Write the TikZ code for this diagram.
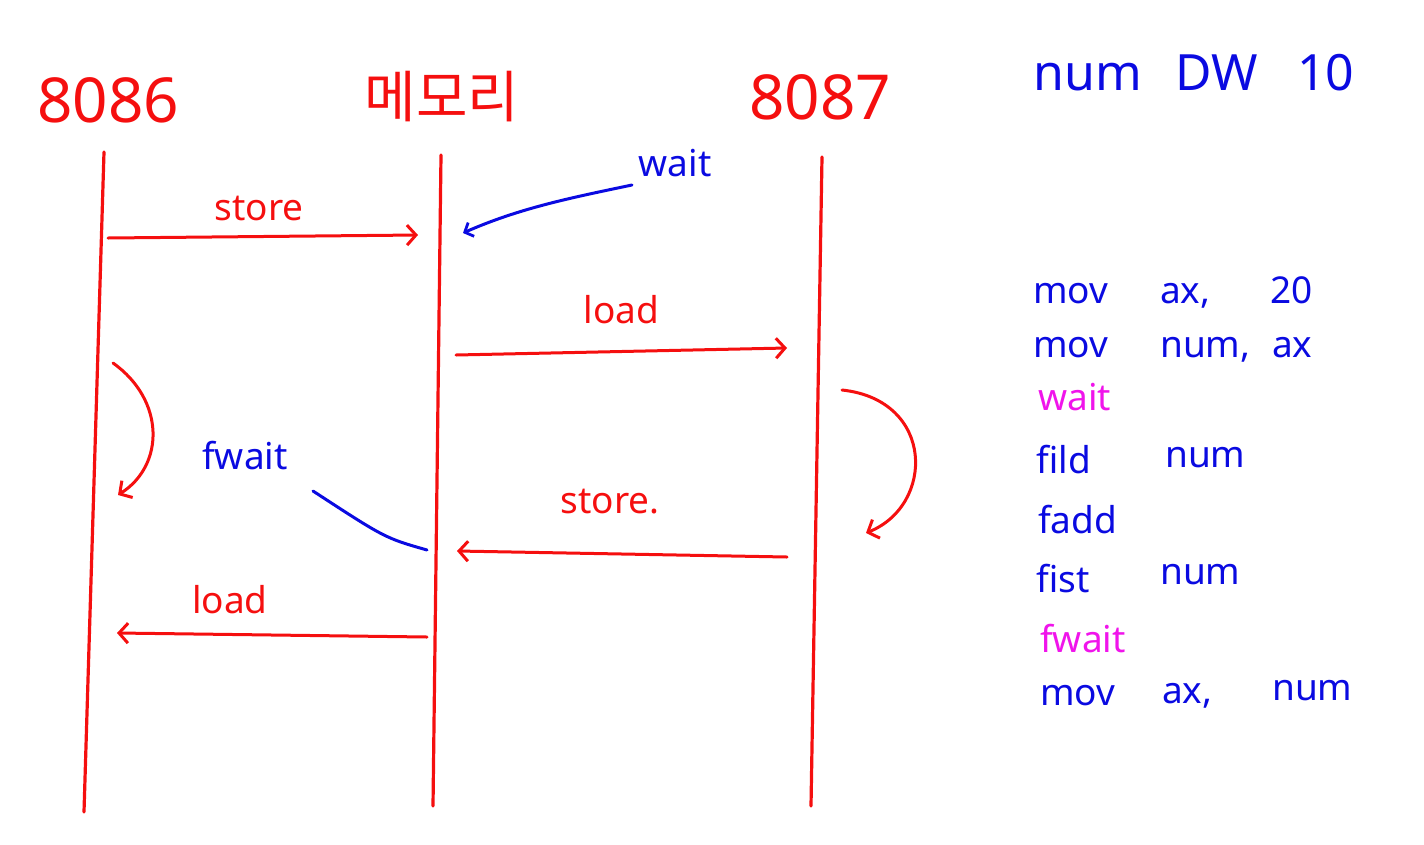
\documentclass[tikz,border=0pt]{standalone}
\usepackage{fontspec}
\setmainfont{Noto Sans}
\newfontfamily\kor{Noto Sans CJK KR}
\usetikzlibrary{arrows.meta,positioning}
\definecolor{pen}{RGB}{245,15,15}
\definecolor{ink}{RGB}{10,10,225}
\definecolor{pink}{RGB}{240,20,235}
\newcommand{\headsize}{\fontsize{62}{70}\selectfont}
\newcommand{\lblsize}{\fontsize{37}{44}\selectfont}
\newcommand{\codesize}{\fontsize{37}{44}\selectfont}

\begin{document}
\begin{tikzpicture}[x=1pt,y=-1pt,
	life/.style={pen, line width=3.2pt, line cap=round},
	msg/.style={pen, line width=3pt, line cap=round, -{Straight Barb[length=9pt,width=20pt,line width=3pt]}},
	note/.style={ink, line width=3pt, line cap=round},
	head/.style={pen, font=\headsize, inner sep=0pt},
	lbl/.style={pen, font=\lblsize, inner sep=2pt},
	tok/.style={ink, font=\codesize, anchor=base west, inner sep=0pt}]
	\useasboundingbox (0,0) rectangle (1424,844);

	% headers
	\node[head] (cpu) at (108,100) {8086};
	\node[head, font=\fontsize{56}{64}\selectfont\kor] (mem) at (442,97) {메모리};
	\node[head] (fpu) at (820,97) {8087};

	% lifelines
	\coordinate (a1) at (104,152); \coordinate (a2) at (84,812);
	\coordinate (b1) at (441,155); \coordinate (b2) at (433,806);
	\coordinate (c1) at (822,157); \coordinate (c2) at (811,806);
	\draw[life] (a1) -- (a2);
	\draw[life] (b1) -- (b2);
	\draw[life] (c1) -- (c2);

	% messages
	\coordinate (s1) at (108,238); \coordinate (s2) at (418,235);
	\draw[msg] (s1) -- node[lbl, above=12pt, xshift=-4pt] (st1) {store} (s2);

	\coordinate (l1) at (456,355); \coordinate (l2) at (787,348);
	\draw[msg] (l1) -- node[lbl, above=24pt] (ld1) {load} (l2);

	\coordinate (r1) at (787,557); \coordinate (r2) at (457,551);
	\draw[msg] (r1) -- node[lbl, above=36pt, xshift=-12pt] (st2) {store.} (r2);

	\coordinate (d1) at (427,637); \coordinate (d2) at (117,633);
	\draw[msg] (d1) -- node[lbl, above=18pt, xshift=-42pt] (ld2) {load} (d2);

	% busy loops
	\coordinate (p1) at (113,363); \coordinate (p2) at (118,495);
	\draw[msg] (p1) .. controls (165,400) and (165,465) .. (p2);
	\coordinate (q1) at (842,390); \coordinate (q2) at (866,533);
	\draw[msg] (q1) .. controls (935,400) and (935,505) .. (q2);

	% wait notes
	\node[ink, font=\lblsize] (w) at (675,163) {wait};
	\coordinate (w1) at (632,185); \coordinate (w2) at (463,233);
	\draw[note, -{Straight Barb[length=7pt,width=15pt,line width=2.8pt]}] (w1) .. controls (570,198) and (520,208) .. (w2);

	\node[ink, font=\lblsize] (fw) at (245,456) {fwait};
	\coordinate (f1) at (427,550); \coordinate (f2) at (313,491);
	\draw[note] (f1) .. controls (385,538) .. (f2);

	% program
	\node[tok, font=\fontsize{50}{58}\selectfont] (n0) at (1033,90) {num};
	\node[tok, font=\fontsize{50}{58}\selectfont] (n1) at (1175,90) {DW};
	\node[tok, font=\fontsize{50}{58}\selectfont] (n2) at (1297,90) {10};

	\node[tok] (m1) at (1033,303) {mov};
	\node[tok] at (1160,303) {ax,};
	\node[tok] at (1270,303) {20};
	\node[tok] (m2) at (1033,357) {mov};
	\node[tok] at (1160,357) {num,};
	\node[tok] at (1272,357) {ax};
	\node[tok, pink] (m3) at (1038,410) {wait};
	\node[tok] (m4) at (1036,473) {fild};
	\node[tok] at (1165,467) {num};
	\node[tok] (m5) at (1038,533) {fadd};
	\node[tok] (m6) at (1036,592) {fist};
	\node[tok] at (1160,584) {num};
	\node[tok, pink] (m7) at (1040,652) {fwait};
	\node[tok] (m8) at (1040,705) {mov};
	\node[tok] at (1162,703) {ax,};
	\node[tok] at (1272,700) {num};
\end{tikzpicture}
\end{document}
